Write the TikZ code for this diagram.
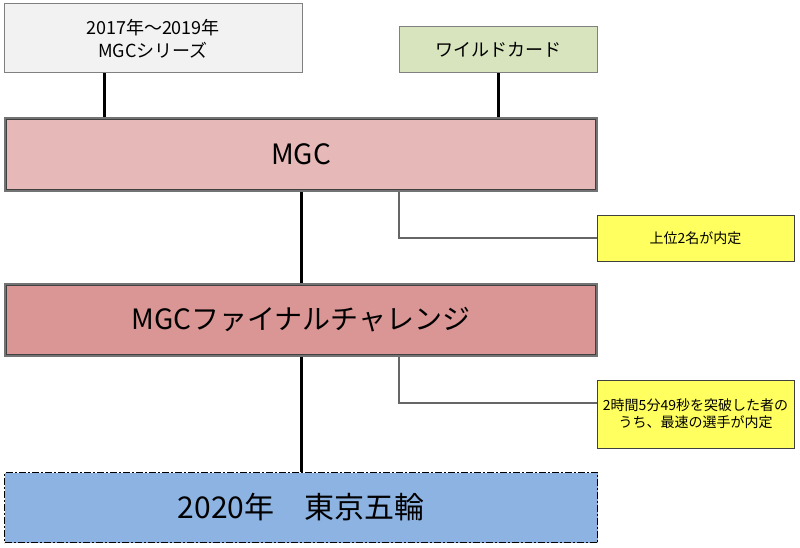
\documentclass[tikz,border=0pt]{standalone}
\usepackage{fontspec}
\setmainfont{Noto Sans CJK JP}
\usepackage{tikz}
\definecolor{serie}{HTML}{F2F2F2}
\definecolor{comodin}{HTML}{D7E4BD}
\definecolor{mgcrosa}{HTML}{E6B9B8}
\definecolor{finalrosa}{HTML}{D99694}
\definecolor{gorinazul}{HTML}{8DB3E2}
\definecolor{notaamar}{HTML}{FFFF5F}
\def\xl{104}
\def\xr{498}
\def\xn{399}
\tikzset{
  caja/.style={rectangle, draw=black!50, line width=1pt, inner sep=2pt, align=center},
  etapa/.style={rectangle, draw=black!55, line width=1.6pt, minimum width=592,
    align=center, font=\fontsize{28}{34}\selectfont},
  borde/.style={draw=black!75, line width=0.9pt},
  nota/.style={rectangle, draw=black!75, line width=1pt, fill=notaamar, inner sep=1pt,
    align=center, font=\fontsize{14}{17}\selectfont},
  grueso/.style={line width=3pt, black},
  fino/.style={line width=1.3pt, black!60}
}

\begin{document}
\begin{tikzpicture}[x=1pt, y=-1pt]
    \useasboundingbox (0,0) rectangle (800,548);

    % Cajas de arriba
    \node[caja, fill=serie, minimum width=298, minimum height=69,
      font=\fontsize{18}{23}\selectfont] (serie) at (153,38.5)
      {2017年～2019年\\MGCシリーズ};
    \node[caja, fill=comodin, minimum width=198, minimum height=46,
      font=\fontsize{18}{22}\selectfont] (wild) at (498,50) {ワイルドカード};

    % Etapas
    \node[etapa, fill=mgcrosa, minimum height=73] (mgc) at (301,154.5) {MGC};
    \node[etapa, fill=finalrosa, minimum height=72] (final) at (301,320)
      {MGCファイナルチャレンジ};
    \node[rectangle, fill=gorinazul, draw=black, line width=1.8pt,
      dash pattern=on 7pt off 2pt on 2pt off 2pt, minimum width=593, minimum height=70,
      font=\fontsize{30}{36}\selectfont] (gorin) at (301,507.5) {2020年　東京五輪};

    % Borde interior
    \draw[borde] ([xshift=2.4pt,yshift=-2.4pt]mgc.north west) rectangle
      ([xshift=-2.4pt,yshift=2.4pt]mgc.south east);
    \draw[borde] ([xshift=2.4pt,yshift=-2.4pt]final.north west) rectangle
      ([xshift=-2.4pt,yshift=2.4pt]final.south east);

    % Notas
    \node[nota, minimum width=197, minimum height=46] (nota1) at (695.5,238)
      {上位2名が内定};
    \node[nota, minimum width=197, minimum height=68] (nota2) at (695.5,414)
      {2時間5分49秒を突破した者の\\うち、最速の選手が内定};

    % Lineas
    \draw[grueso] (\xl,0 |- serie.south) -- (\xl,0 |- mgc.north);
    \draw[grueso] (\xr,0 |- wild.south) -- (\xr,0 |- mgc.north);
    \draw[grueso] (mgc.south) -- (final.north);
    \draw[grueso] (final.south) -- (gorin.north);
    \draw[fino] (\xn,0 |- mgc.south) |- (nota1.west);
    \draw[fino] (\xn,0 |- final.south) |- ([yshift=11pt]nota2.west);
  \end{tikzpicture}
\end{document}
